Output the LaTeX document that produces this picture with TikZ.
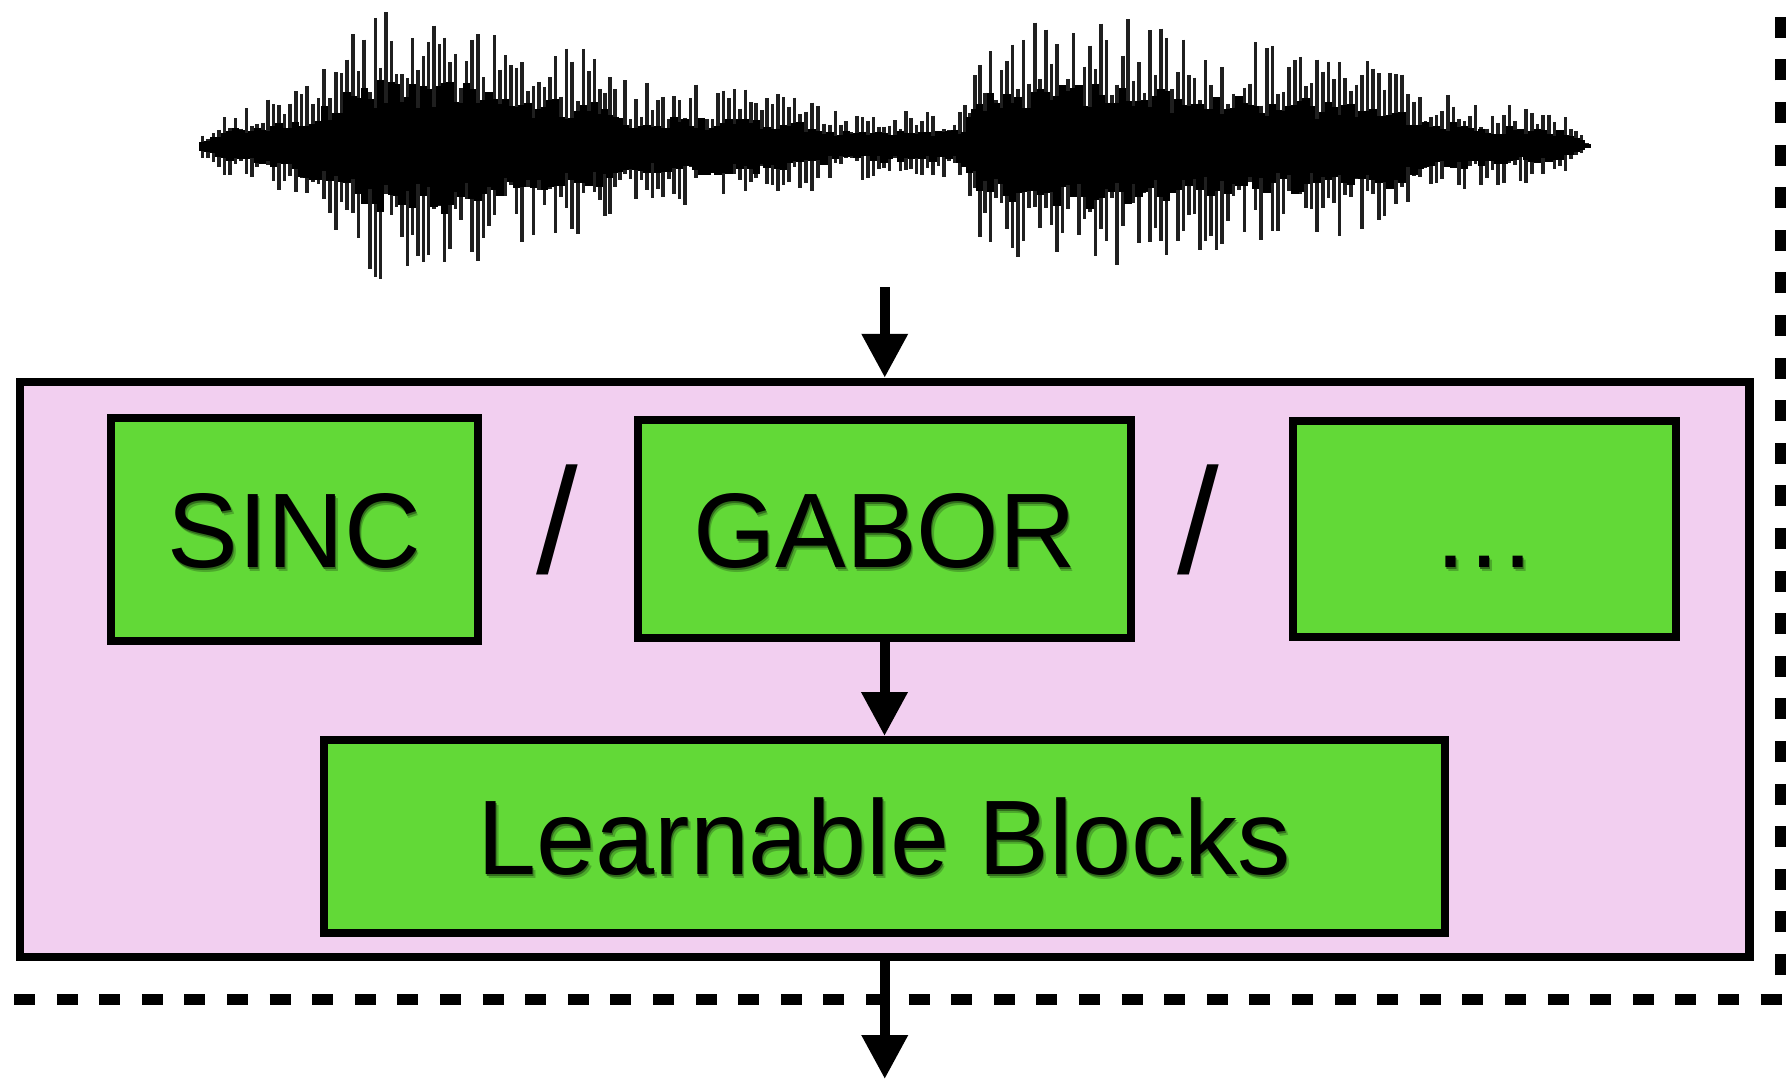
\documentclass[tikz,border=0pt]{standalone}
\usepackage{fontspec}
\setmainfont{Liberation Sans}
\usetikzlibrary{arrows.meta}
\definecolor{pinkbg}{RGB}{242,207,240}
\definecolor{boxgreen}{RGB}{98,217,55}
\colorlet{shfar}{boxgreen!78!black}
\colorlet{shnear}{boxgreen!50!black}
\newcommand\shadowed[1]{\leavevmode
  \rlap{\kern2.5pt\raisebox{-4pt}{\color{shfar}#1}}%
  \rlap{\kern1pt\raisebox{-2pt}{\color{shnear}#1}}%
  #1}
\begin{document}
\begin{tikzpicture}[x=1pt,y=-1pt,
  bigfont/.style={font=\fontsize{106}{127}\selectfont},
  gbox/.style={draw=black, line width=8pt, fill=boxgreen, inner sep=0pt, bigfont, text height=76pt, text depth=0pt},
  slashlbl/.style={font=\fontsize{150}{180}\selectfont, inner sep=0pt, anchor=base},
  arr/.style={line width=10pt, -{Triangle[width=44pt,length=44pt]}},
  dashline/.style={line width=11pt, dash pattern=on 21pt off 21.6pt},
  wspike/.style={line width=3.6pt, black!88},
  wcore/.style={line width=7.5pt, black}]
\useasboundingbox (0,0) rectangle (1788,1080);
\fill[white] (0,0) rectangle (1788,1080);

% waveform
\pgfmathsetseed{11}
\foreach \xa/\ea/\xb/\eb in {197/8/230/35, 230/35/290/55, 290/55/330/90, 330/90/370/134, 370/134/450/137, 450/137/500/104, 500/104/600/92, 600/92/625/63, 625/63/800/53, 800/53/830/34, 830/34/960/34, 960/34/985/108, 985/108/1090/132, 1090/132/1150/116, 1150/116/1250/100, 1250/100/1390/90, 1390/90/1420/58, 1420/58/1470/44, 1470/44/1560/34, 1560/34/1587/6}{
  \pgfmathtruncatemacro\nn{max(1,round((\xb-\xa)/5.5))}
  \foreach \i in {1,...,\nn}{
    \pgfmathsetmacro\xx{\xa+(\xb-\xa)*\i/\nn}
    \pgfmathsetmacro\ee{\ea+(\eb-\ea)*\i/\nn}
    \pgfmathsetmacro\up{146-\ee*(0.4+0.65*rnd)}
    \pgfmathsetmacro\dn{146+\ee*(0.35+0.65*rnd)}
    \pgfmathsetmacro\cu{146-\ee*(0.28+0.22*rnd)}
    \pgfmathsetmacro\cd{146+\ee*(0.28+0.22*rnd)}
    \draw[wspike] (\xx,\up) -- (\xx,\dn);
    \draw[wcore] (\xx,\cu) -- (\xx,\cd);
  }
}

% outer frame
\node[draw=black, line width=8.5pt, fill=pinkbg, minimum width=1729.5pt, minimum height=575pt, inner sep=0pt] (pink) at (884.75,669.5) {};

% boxes
\node[gbox, minimum width=367.5pt, minimum height=223pt] (sinc) at (294.25,529.5) {\shadowed{SINC}};
\node[gbox, minimum width=493pt, minimum height=218pt] (gabor) at (884.5,529) {\shadowed{GABOR}};
\node[gbox, minimum width=383pt, minimum height=216pt] (more) at (1484.5,529) {\shadowed{…}};
\node[gbox, minimum width=1121pt, minimum height=193pt] (learn) at (884.5,836.5) {\shadowed{Learnable Blocks}};

% separators
\node[slashlbl] (sl1) at (557,573) {/};
\node[slashlbl] (sl2) at (1198.5,573) {/};

% arrows
\coordinate (wvout) at (884.75,287);
\coordinate (outend) at (884.75,1079);
\draw[arr] (wvout) -- (pink.north);
\draw[arr] (gabor.south) -- (learn.north);
\draw[arr] (pink.south) -- (outend);

% dashed boundary
\draw[dashline] (1780.5,975) -- (1780.5,0);
\draw[dashline] (14,999.5) -- (1788,999.5);
\end{tikzpicture}
\end{document}
